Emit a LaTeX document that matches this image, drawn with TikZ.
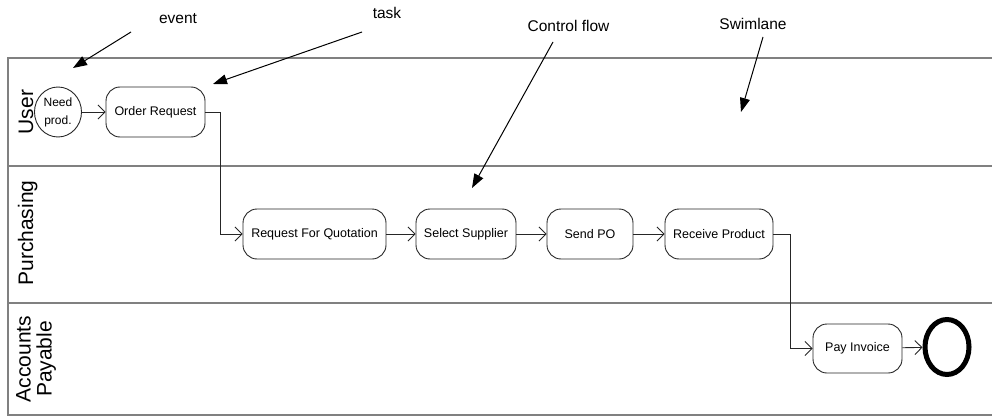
\documentclass[tikz,border=0pt]{standalone}
\usepackage{fontspec}
\setmainfont{Liberation Sans}
\usetikzlibrary{arrows.meta,shapes.geometric}
\begin{document}
\begin{tikzpicture}[x=1pt,y=-1pt,
  task/.style={draw=black!85, rounded corners=14pt, minimum height=50pt, font=\fontsize{12.5}{15}\selectfont, inner sep=0pt, line width=0.9pt},
  flow/.style={draw=black!85, line width=0.9pt, -{Straight Barb[length=7pt,width=14pt,line width=0.9pt]}},
  note/.style={draw=black, line width=1pt, -{Triangle[length=14pt,width=10pt]}},
  lane/.style={draw=black!50, line width=1.5pt},
  lbl/.style={font=\fontsize{15.5}{18}\selectfont, inner sep=0pt},
  lanelbl/.style={rotate=90, font=\fontsize{21}{21}\selectfont, align=center, inner sep=0pt}]
\useasboundingbox (0,0) rectangle (992,417);
% swimlanes
\draw[lane] (992,58) -- (8,58) -- (8,415) -- (992,415);
\draw[lane] (8,166) -- (992,166);
\draw[lane] (8,303) -- (992,303);
\node[lanelbl, anchor=base] (luser) at (33,112) {User};
\node[lanelbl, anchor=base] (lpur) at (33,233) {Purchasing};
\node[lanelbl] (lap) at (36,359) {Accounts\\Payable};
% nodes
\node[draw=black!85, ellipse, line width=0.9pt, minimum width=47pt, minimum height=50pt, inner sep=0pt, align=center, font=\fontsize{12}{18}\selectfont] (need) at (58,112) {Need\\prod.};
\node[task, minimum width=99pt] (or) at (155.5,112) {Order Request};
\node[task, minimum width=143pt] (rfq) at (314.5,234) {Request For Quotation};
\node[task, minimum width=100pt] (ss) at (466,234) {Select Supplier};
\node[task, minimum width=86pt] (po) at (590,234) {Send PO};
\node[task, minimum width=108pt] (rp) at (719,234) {Receive Product};
\node[task, minimum width=89pt, minimum height=49pt] (pay) at (857.5,348.5) {Pay Invoice};
\node[draw=black, ellipse, line width=5pt, minimum width=44pt, minimum height=55pt, inner sep=0pt] (end) at (947,347) {};
% flows
\draw[flow] (need) -- (or);
\draw[flow] (or.east) -- ++(15,0) |- (rfq.west);
\draw[flow] (rfq) -- (ss);
\draw[flow] (ss) -- (po);
\draw[flow] (po) -- (rp);
\draw[flow] (rp.east) -- ++(17,0) |- (pay.west);
\draw[flow] (pay) -- (end);
% annotations
\node[lbl] (tev) at (178,19) {event};
\node[lbl] (ttask) at (387,13) {task};
\node[lbl] (tcf) at (568.5,26) {Control flow};
\node[lbl] (tsw) at (753,24) {Swimlane};
\coordinate (ev1) at (131,32); \coordinate (ev2) at (73,68);
\coordinate (ta1) at (362,32); \coordinate (ta2) at (213,84);
\coordinate (cf1) at (553,42); \coordinate (cf2) at (472,188);
\coordinate (sw1) at (763,37); \coordinate (sw2) at (741,112);
\draw[note] (ev1) -- (ev2);
\draw[note] (ta1) -- (ta2);
\draw[note] (cf1) -- (cf2);
\draw[note] (sw1) -- (sw2);
\end{tikzpicture}
\end{document}
